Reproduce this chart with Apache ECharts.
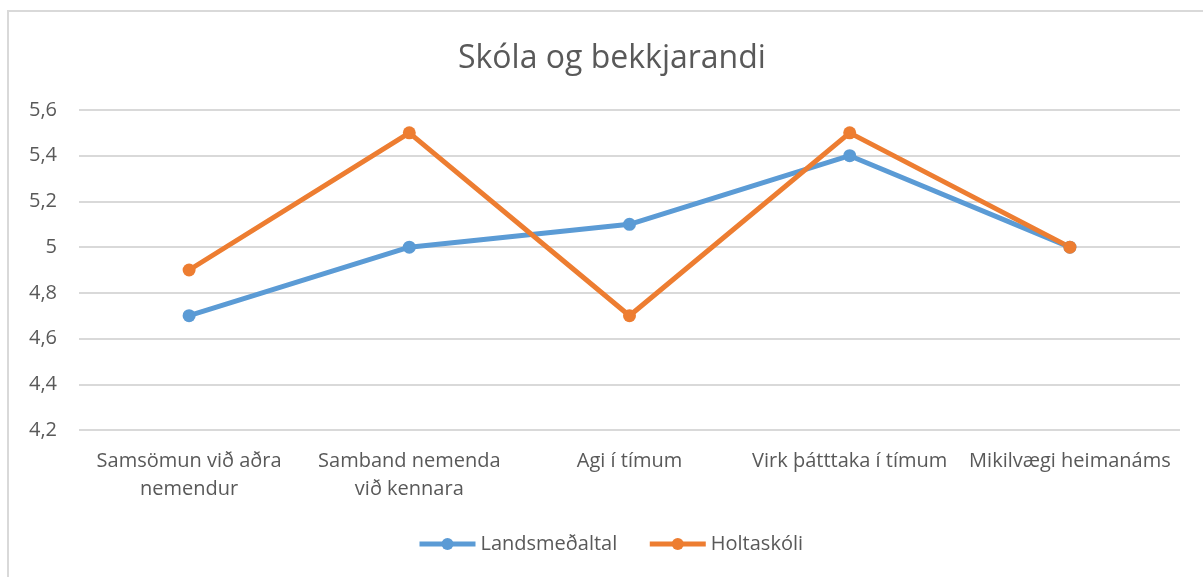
<!DOCTYPE html>
<html>
<head>
<meta charset="utf-8">
<title>Skóla og bekkjarandi</title>
<script src="https://cdn.jsdelivr.net/npm/echarts@6/dist/echarts.min.js"></script>
<style>
    html, body { margin: 0; padding: 0; background: #fff; }
    #chart { width: 1203px; height: 577px; }
</style>
</head>
<body>
<div id="chart"></div>
<script>
// flokkar og gildi lesin af myndinni
var categories = [
    'Samsömun við aðra\nnemendur',
    'Samband nemenda\nvið kennara',
    'Agi í tímum',
    'Virk þátttaka í tímum',
    'Mikilvægi heimanáms'
];
var landsmedaltal = [4.7, 5.0, 5.1, 5.4, 5.0];
var holtaskoli = [4.9, 5.5, 4.7, 5.5, 5.0];
var yMin = 4.2, yMax = 5.6, yStep = 0.2;

var font = '"Open Sans", Lato, sans-serif';
var textColor = '#595959';

var chart = echarts.init(document.getElementById('chart'));

function lineSeries(name, data, color) {
    return {
        name: name,
        type: 'line',
        data: data,
        symbol: 'circle',
        symbolSize: 13,
        lineStyle: { color: color, width: 5 },
        itemStyle: { color: color },
        animation: false
    };
}

chart.setOption({
    backgroundColor: '#fff',
    textStyle: { fontFamily: font },
    graphic: [{
        type: 'rect',
        shape: { x: 8, y: 11, width: 1200, height: 580 },
        style: { fill: 'none', stroke: '#d9d9d9', lineWidth: 2 },
        silent: true
    }],
    title: {
        text: 'Skóla og bekkjarandi',
        left: 453,
        top: 38,
        textStyle: { fontFamily: font, fontSize: 32, fontWeight: 'normal', color: textColor }
    },
    legend: {
        bottom: 18,
        left: 412,
        itemWidth: 56,
        itemHeight: 15,
        itemGap: 30,
        lineStyle: { width: 5 },
        textStyle: { fontFamily: font, fontSize: 20, color: textColor },
        data: ['Landsmeðaltal', 'Holtaskóli']
    },
    grid: { left: 79, right: 23, top: 110, bottom: 147, containLabel: false },
    xAxis: {
        type: 'category',
        data: categories,
        boundaryGap: true,
        axisLine: { show: false },
        axisTick: { show: false },
        axisLabel: {
            interval: 0,
            margin: 17,
            fontFamily: font,
            fontSize: 20,
            lineHeight: 28,
            color: textColor
        }
    },
    yAxis: {
        type: 'value',
        min: yMin,
        max: yMax,
        interval: yStep,
        axisLine: { show: false },
        axisTick: { show: false },
        splitLine: { lineStyle: { color: '#d9d9d9', width: 2 } },
        axisLabel: {
            margin: 22,
            fontFamily: font,
            fontSize: 20,
            color: textColor,
            formatter: function (v) {
                return String(Math.round(v * 10) / 10).replace('.', ',');
            }
        }
    },
    series: [
        lineSeries('Landsmeðaltal', landsmedaltal, '#5b9bd5'),
        lineSeries('Holtaskóli', holtaskoli, '#ed7d31')
    ]
});
</script>
</body>
</html>
